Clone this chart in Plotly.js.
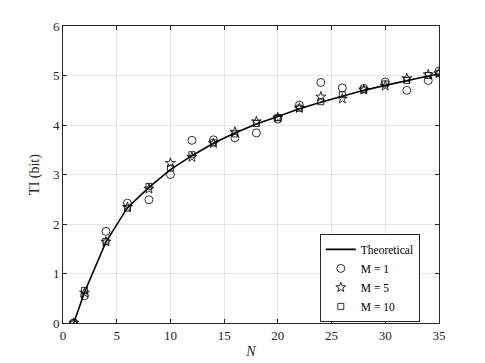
<!DOCTYPE html>
<html>
<head>
<meta charset="utf-8">
<script src="https://cdn.plot.ly/plotly-3.0.1.min.js"></script>
<style>
  html, body { margin: 0; padding: 0; background: #fff; }
  #chart { width: 485px; height: 363px; }
</style>
</head>
<body>
<div id="chart"></div>
<script>
  // values
  var N = [1, 2, 4, 6, 8, 10, 12, 14, 16, 18, 20, 22, 24, 26, 28, 30, 32, 34, 35];
  var theory = [0, 0.62, 1.64, 2.33, 2.74, 3.1, 3.38, 3.63, 3.84, 4.02, 4.17, 4.33, 4.46, 4.58, 4.7, 4.8, 4.9, 4.99, 5.03];
  var m1 = [0, 0.55, 1.85, 2.42, 2.49, 3.0, 3.69, 3.7, 3.74, 3.84, 4.12, 4.4, 4.86, 4.75, 4.74, 4.87, 4.7, 4.9, 5.09];
  var m5 = [0, 0.61, 1.64, 2.34, 2.71, 3.23, 3.35, 3.63, 3.86, 4.07, 4.15, 4.34, 4.57, 4.53, 4.71, 4.79, 4.94, 5.02, 5.04];
  var m10 = [0, 0.66, 1.65, 2.32, 2.76, 3.13, 3.4, 3.64, 3.82, 4.03, 4.15, 4.34, 4.47, 4.61, 4.71, 4.83, 4.9, 5.0, 5.04];

  var serif = "'Liberation Serif', 'Times New Roman', Times, serif";

  var trace1 = {
    x: N, y: theory,
    type: 'scatter', mode: 'lines',
    name: 'Theoretical',
    line: {color: '#000', width: 1.6}
  };
  var trace2 = {
    x: N, y: m1,
    type: 'scatter', mode: 'markers',
    name: 'M = 1',
    marker: {symbol: 'circle-open', size: 8, color: '#000', line: {width: 0.8}}
  };
  var trace3 = {
    x: N, y: m5,
    type: 'scatter', mode: 'markers',
    name: 'M = 5',
    marker: {symbol: 'star-open', size: 7.5, color: '#000', line: {width: 0.8}}
  };
  var trace4 = {
    x: N, y: m10,
    type: 'scatter', mode: 'markers',
    name: 'M = 10',
    marker: {symbol: 'square-open', size: 6, color: '#000', line: {width: 0.8}}
  };

  var data = [trace1, trace2, trace3, trace4];

  var layout = {
    width: 485,
    height: 363,
    margin: {l: 63, r: 46, t: 26, b: 40},
    paper_bgcolor: '#fff',
    plot_bgcolor: '#fff',
    font: {family: serif, size: 13, color: '#262626'},
    showlegend: true,
    legend: {
      x: 0.683, y: 0.3, xanchor: 'left', yanchor: 'top',
      bgcolor: '#fff', bordercolor: '#262626', borderwidth: 1,
      font: {family: serif, size: 11.5, color: '#000'},
      tracegroupgap: 0, itemwidth: 30
    },
    xaxis: {
      range: [0, 35],
      tickvals: [0, 5, 10, 15, 20, 25, 30, 35],
      showgrid: true, gridcolor: '#e6e6e6', gridwidth: 1,
      zeroline: false,
      showline: true, linecolor: '#262626', linewidth: 1, mirror: 'ticks',
      ticks: 'inside', ticklen: 4, tickcolor: '#262626',
      title: {text: '<i>N</i>', font: {family: serif, size: 14, color: '#262626'}, standoff: 4}
    },
    yaxis: {
      range: [0, 6],
      tickvals: [0, 1, 2, 3, 4, 5, 6],
      showgrid: true, gridcolor: '#e6e6e6', gridwidth: 1,
      zeroline: false,
      showline: true, linecolor: '#262626', linewidth: 1, mirror: 'ticks',
      ticks: 'inside', ticklen: 4, tickcolor: '#262626',
      title: {text: 'TI (bit)', font: {family: serif, size: 14, color: '#262626'}, standoff: 10}
    }
  };

  Plotly.newPlot('chart', data, layout, {displayModeBar: false});
</script>
</body>
</html>
